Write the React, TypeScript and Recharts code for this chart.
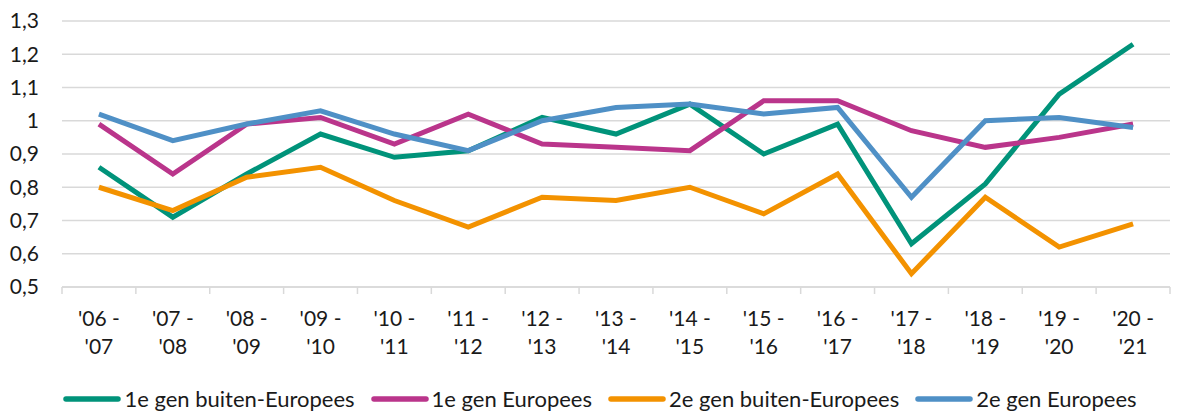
import React from "react";
import { LineChart, Line, XAxis, YAxis, CartesianGrid, Legend } from "recharts";

const periods = ["'06 - '07", "'07 - '08", "'08 - '09", "'09 - '10", "'10 - '11", "'11 - '12", "'12 - '13", "'13 - '14", "'14 - '15", "'15 - '16", "'16 - '17", "'17 - '18", "'18 - '19", "'19 - '20", "'20 - '21"];

const gen1NonEu = [0.86, 0.71, 0.84, 0.96, 0.89, 0.91, 1.01, 0.96, 1.05, 0.9, 0.99, 0.63, 0.81, 1.08, 1.23];
const gen1Eu = [0.99, 0.84, 0.99, 1.01, 0.93, 1.02, 0.93, 0.92, 0.91, 1.06, 1.06, 0.97, 0.92, 0.95, 0.99];
const gen2NonEu = [0.8, 0.73, 0.83, 0.86, 0.76, 0.68, 0.77, 0.76, 0.8, 0.72, 0.84, 0.54, 0.77, 0.62, 0.69];
const gen2Eu = [1.02, 0.94, 0.99, 1.03, 0.96, 0.91, 1.0, 1.04, 1.05, 1.02, 1.04, 0.77, 1.0, 1.01, 0.98];

const yTicks = [0.5, 0.6, 0.7, 0.8, 0.9, 1, 1.1, 1.2, 1.3];

const series = [
  { key: "g1n", name: "1e gen buiten-Europees", color: "#00937a", values: gen1NonEu },
  { key: "g1e", name: "1e gen Europees", color: "#ba358b", values: gen1Eu },
  { key: "g2n", name: "2e gen buiten-Europees", color: "#f39200", values: gen2NonEu },
  { key: "g2e", name: "2e gen Europees", color: "#4f90c6", values: gen2Eu },
];

const data = periods.map((p, i) => {
  const row: Record<string, string | number> = { period: p };
  series.forEach((s) => (row[s.key] = s.values[i]));
  return row;
});

const FONT = "Lato, 'Open Sans', sans-serif";
const TEXT = "#1a1a1a";
const GRID = "#d9d9d9";
const BAND = 1108 / 15;

function PeriodTick(props: any) {
  const { x, y, payload, index } = props;
  const [a, b] = String(payload.value).split(" - ");
  const top = y - 8;
  return (
    <g>
      <line x1={x - BAND / 2} x2={x - BAND / 2} y1={top} y2={top + 7} stroke={GRID} strokeWidth={1.5} />
      {index === periods.length - 1 && (
        <line x1={x + BAND / 2} x2={x + BAND / 2} y1={top} y2={top + 7} stroke={GRID} strokeWidth={1.5} />
      )}
      <text x={x} y={top + 39} textAnchor="middle" fill={TEXT} fontSize={21} fontFamily={FONT}>
        {a + " -"}
      </text>
      <text x={x} y={top + 67} textAnchor="middle" fill={TEXT} fontSize={21} fontFamily={FONT}>
        {b}
      </text>
    </g>
  );
}

function LegendContent() {
  return (
    <div
      style={{
        display: "flex",
        justifyContent: "center",
        gap: 16,
        fontFamily: FONT,
        fontSize: 22,
        lineHeight: "22px",
        color: TEXT,
        paddingTop: 6,
        paddingLeft: 30,
      }}
    >
      {series.map((s) => (
        <div key={s.key} style={{ display: "flex", alignItems: "center" }}>
          <svg width={58} height={10} style={{ marginRight: 3 }}>
            <line x1={3} x2={55} y1={5} y2={5} stroke={s.color} strokeWidth={5.5} strokeLinecap="round" />
          </svg>
          <span>{s.name}</span>
        </div>
      ))}
    </div>
  );
}

export default function App() {
  return (
    <div style={{ position: "absolute", left: 0, top: 0, background: "#fff" }}>
      <LineChart width={1181} height={412} data={data} margin={{ top: 21, right: 11, bottom: 0, left: 0 }}>
        <CartesianGrid vertical={false} stroke={GRID} strokeWidth={1.5} />
        <XAxis
          dataKey="period"
          interval={0}
          height={95}
          padding={{ left: BAND / 2, right: BAND / 2 }}
          axisLine={{ stroke: GRID, strokeWidth: 1.5 }}
          tickLine={false}
          tick={<PeriodTick />}
        />
        <YAxis
          width={62}
          domain={[0.5, 1.3]}
          ticks={yTicks}
          interval={0}
          axisLine={false}
          tickLine={false}
          tickSize={6}
          tickMargin={17}
          tickFormatter={(v: number) => String(v).replace(".", ",")}
          tick={{ fill: TEXT, fontSize: 21, fontFamily: FONT }}
        />
        <Legend verticalAlign="bottom" height={30} content={<LegendContent />} />
        {series.map((s) => (
          <Line
            key={s.key}
            dataKey={s.key}
            name={s.name}
            stroke={s.color}
            strokeWidth={5}
            dot={false}
            activeDot={false}
            isAnimationActive={false}
          />
        ))}
      </LineChart>
    </div>
  );
}
